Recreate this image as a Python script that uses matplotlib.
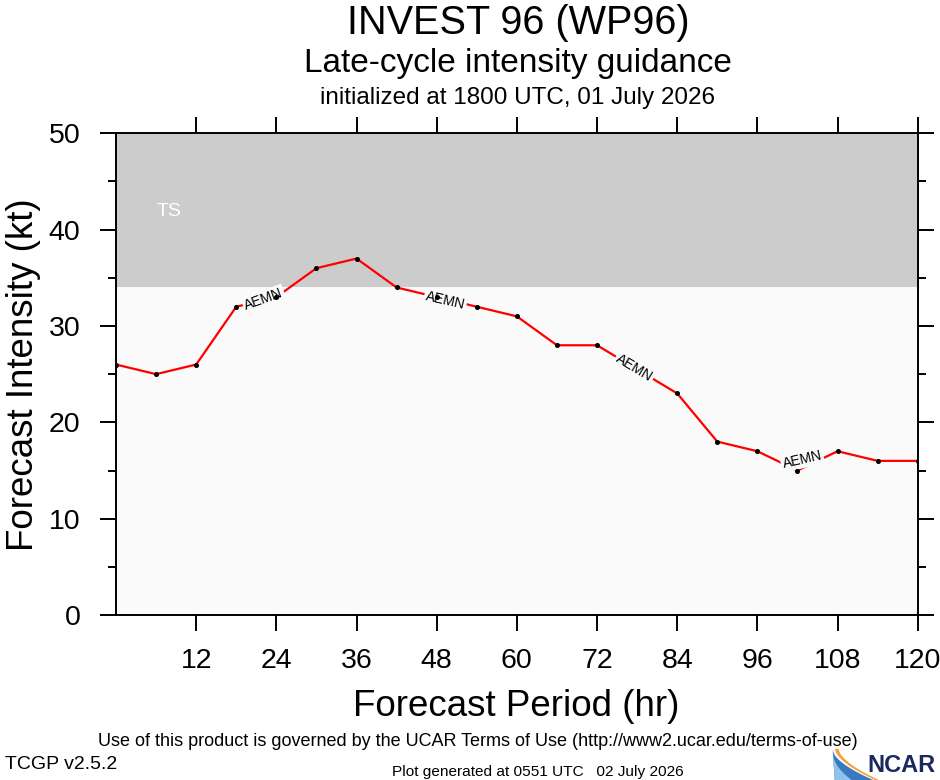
import matplotlib
matplotlib.use('Agg')
import matplotlib.pyplot as plt
import matplotlib.patches as patches
import numpy as np
from matplotlib.ticker import MultipleLocator

plt.rcParams['font.family'] = ['Liberation Sans', 'DejaVu Sans']

# Forecast data (AEMN intensity guidance)
hours = [0, 6, 12, 18, 24, 30, 36, 42, 48, 54, 60, 66, 72, 84, 90, 96, 102, 108, 114, 120]
intensity = [26, 25, 26, 32, 33, 36, 37, 34, 33, 32, 31, 28, 28, 23, 18, 17, 15, 17, 16, 16]
model_name = "AEMN"

# Intensity category band
ts_low, ts_high = 34, 50
xticks = [12, 24, 36, 48, 60, 72, 84, 96, 108, 120]
yticks = [0, 10, 20, 30, 40, 50]

# line label placement (x position, y offset, rotation)
label_x = [22.1, 49.3, 77.6, 102.7]
label_dy = [0.1, -0.1, 0.0, 0.9]
label_rot = [20, -13, -31, 13]

fig = plt.figure(figsize=(9.4, 7.8), dpi=100)
ax = fig.add_axes([0.1234, 0.2115, 0.8529, 0.6176])
ax.set_xlim(0, 120)
ax.set_ylim(0, 50)
ax.set_facecolor('#fafafa')

# TS shading
ax.axhspan(ts_low, ts_high, color='#cccccc', lw=0, zorder=0)
ax.text(7.9, 41.9, "TS", color='white', fontsize=14, ha='center', va='center')

ax.plot(hours, intensity, color='#ff0000', lw=1.6, zorder=3)
ax.plot(hours, intensity, ls='none', marker='o', ms=2.6, color='black', zorder=6)

for lx, dy, rot in zip(label_x, label_dy, label_rot):
    ly = np.interp(lx, hours, intensity) + dy
    ax.text(lx, ly, model_name, fontsize=10, ha='center', va='center',
            rotation=rot, rotation_mode='anchor', zorder=5,
            bbox=dict(boxstyle='square,pad=0.12', fc='#fafafa', ec='none'))

# axes styling
for sp in ax.spines.values():
    sp.set_linewidth(1.4)
ax.set_xticks(xticks)
ax.set_yticks(yticks)
ax.yaxis.set_minor_locator(MultipleLocator(5))
ax.tick_params(which='both', direction='out', top=True, right=True,
               labeltop=False, labelright=False, width=1.4)
ax.tick_params(which='major', length=11.5, labelsize=20.5)
ax.tick_params(axis='y', which='major', pad=14)
ax.tick_params(axis='x', which='major', pad=12)
ax.tick_params(which='minor', length=5.8)

# titles, centred over the plot area
cx = 0.551
fig.text(cx, 0.971, "INVEST 96 (WP96)", fontsize=28.5, ha='center', va='center')
fig.text(cx, 0.918, "Late-cycle intensity guidance", fontsize=24, ha='center', va='center')
fig.text(cx, 0.874, "initialized at 1800 UTC, 01 July 2026", fontsize=17.5, ha='center', va='center')

# axis labels
fig.text(0.549, 0.094, "Forecast Period (hr)", fontsize=26.5, ha='center', va='center')
fig.text(0.025, 0.52, "Forecast Intensity (kt)", fontsize=26.5, ha='center', va='center',
         rotation=90)

# footer
fig.text(0.508, 0.049, "Use of this product is governed by the UCAR Terms of Use (http://www2.ucar.edu/terms-of-use)",
         fontsize=13, ha='center', va='center')
fig.text(0.005, 0.020, "TCGP v2.5.2", fontsize=14, ha='left', va='center')
fig.text(0.572, 0.010, "Plot generated at 0551 UTC   02 July 2026", fontsize=11.1,
         ha='center', va='center')

# NCAR logo: curved swoosh + text
t = np.linspace(0, 1, 30)
outer = np.column_stack([0.886 + 0.043 * t, 0.038 - 0.038 * t ** 0.6])
blue = patches.Polygon(np.vstack([[(0.888, 0.0)], [(0.886, 0.036)], outer]),
                       closed=True, transform=fig.transFigure, fc='#3a78c0', ec='none')
fig.patches.append(blue)
light = patches.Polygon(np.vstack([[(0.888, 0.0)], [(0.886, 0.036)],
                                   np.column_stack([0.886 + 0.02 * t, 0.036 - 0.036 * t ** 0.5])]),
                        closed=True, transform=fig.transFigure, fc='#8fc3ea', ec='none')
fig.patches.append(light)
orange = patches.Polygon(np.vstack([np.column_stack([0.888 + 0.043 * t, 0.040 - 0.040 * t ** 0.6]),
                                    np.column_stack([0.892 + 0.043 * t[::-1], 0.040 - 0.040 * t[::-1] ** 0.6])]),
                         closed=True, transform=fig.transFigure, fc='#f2a33a', ec='none')
fig.patches.append(orange)
fig.text(0.995, 0.018, "NCAR", fontsize=17, fontweight='bold', color='#1b2a5c',
         ha='right', va='center')

fig.savefig('out.png', dpi=100)
